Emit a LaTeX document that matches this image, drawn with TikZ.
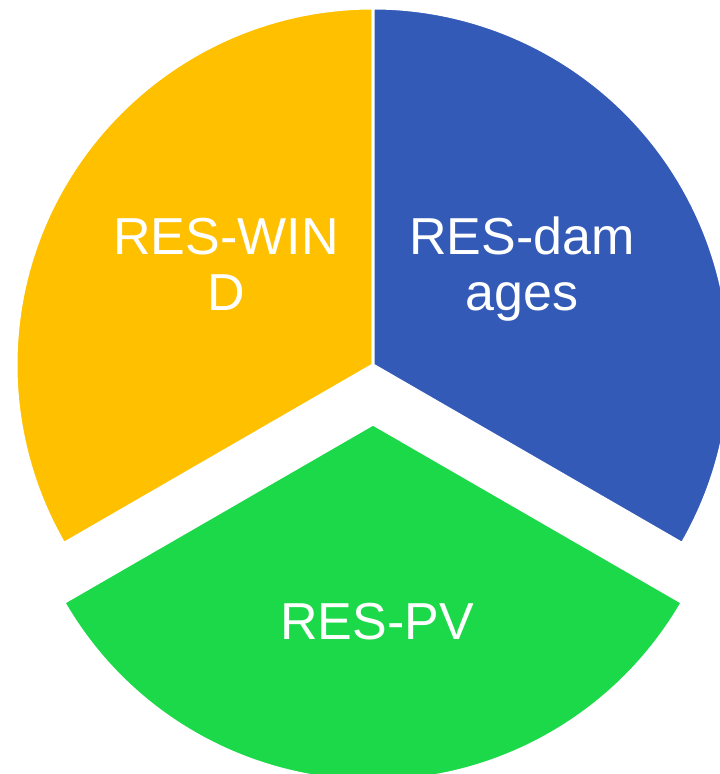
\documentclass[tikz,border=0pt]{standalone}
\usepackage{fontspec}
\setmainfont{Liberation Sans}
\definecolor{windyellow}{HTML}{FFC000}
\definecolor{damblue}{HTML}{335AB7}
\definecolor{pvgreen}{HTML}{1CD94A}
\tikzset{
    slice/.style={draw=white, line width=3pt, line join=miter},
    slicetext/.style={text=white, align=center, inner sep=0pt,
        font=\fontsize{52}{56}\selectfont}
}
\begin{document}
\begin{tikzpicture}[x=1pt,y=1pt]
\useasboundingbox (0,0) rectangle (720,774);
\clip (0,0) rectangle (720,774);
\coordinate (O) at (373,409);
\coordinate (Opv) at (373,350);
% slices: start/end/colour/centre
\foreach \a/\b/\c/\o in {90/210/windyellow/O, -30/90/damblue/O, 210/330/pvgreen/Opv}
{
\filldraw [slice, fill=\c] (\o) -- ++(\a:357) arc[start angle=\a, end angle=\b, radius=357] -- cycle;
}
\node [slicetext, anchor=base] (wind) at (226,463) {RES-WIN\\D};
\node [slicetext, anchor=base] (dam) at (522,463) {RES-dam\\ages};
\node [slicetext, anchor=base] (pv) at (377,134) {RES-PV};
\end{tikzpicture}
\end{document}
